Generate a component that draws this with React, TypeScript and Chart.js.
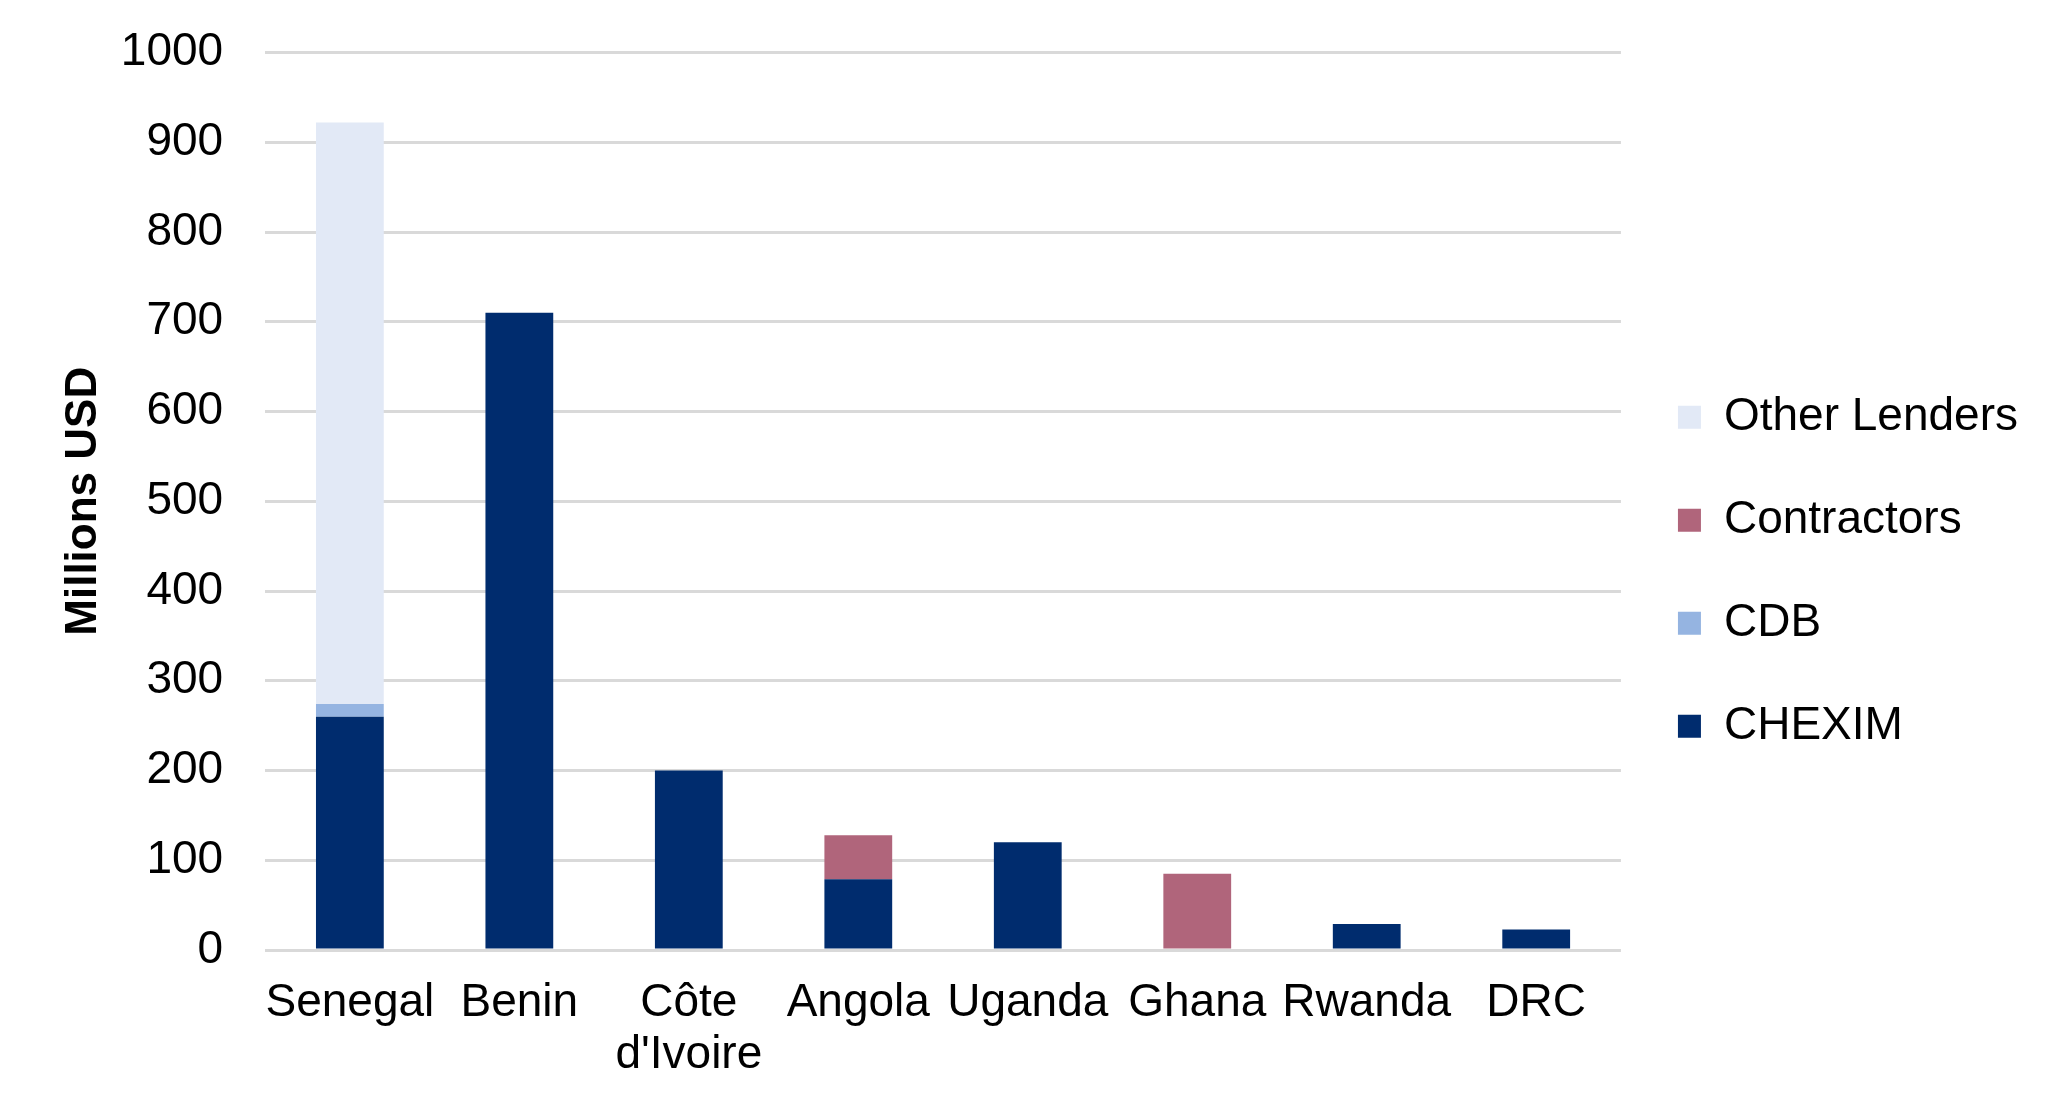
import { useEffect, useRef } from "react"
import { Chart, registerables } from "chart.js"

Chart.register(...registerables)

const countries = ["Senegal", "Benin", ["Côte", "d'Ivoire"], "Angola", "Uganda", "Ghana", "Rwanda", "DRC"]

const chexim = [260, 710, 200, 79, 120, 0, 29, 23]
const cdb = [14, 0, 0, 0, 0, 0, 0, 0]
const contractors = [0, 0, 0, 49, 0, 85, 0, 0]
const otherLenders = [648, 0, 0, 0, 0, 0, 0, 0]

const yMin = 0
const yMax = 1000
const yStep = 100

const FONT = "'Liberation Sans', Arial, Helvetica, sans-serif"

export default function App() {
  const chartRef = useRef<HTMLCanvasElement>(null)
  const chartInstance = useRef<Chart | null>(null)

  useEffect(() => {
    if (!chartRef.current) return

    if (chartInstance.current) {
      chartInstance.current.destroy()
    }

    const ctx = chartRef.current.getContext("2d")
    if (!ctx) return

    Chart.defaults.font.family = FONT
    Chart.defaults.color = "#000000"

    chartInstance.current = new Chart(ctx, {
      type: "bar",
      data: {
        labels: countries as any,
        datasets: [
          { label: "CHEXIM", data: chexim, backgroundColor: "#002C6E" },
          { label: "CDB", data: cdb, backgroundColor: "#95B4E1" },
          { label: "Contractors", data: contractors, backgroundColor: "#B0657B" },
          { label: "Other Lenders", data: otherLenders, backgroundColor: "#E2E9F6" },
        ],
      },
      options: {
        responsive: true,
        maintainAspectRatio: false,
        animation: false,
        layout: {
          padding: { top: 52.5, right: 43, bottom: 37, left: 0 },
        },
        datasets: {
          bar: {
            categoryPercentage: 1,
            barPercentage: 0.4,
            borderWidth: 0,
          },
        },
        plugins: {
          tooltip: { enabled: false },
          legend: {
            position: "right",
            reverse: true,
            title: {
              display: true,
              text: "",
              padding: 0,
              font: { size: 10, lineHeight: 1 },
            },
            labels: {
              boxWidth: 23,
              boxHeight: 23,
              padding: 57,
              color: "#000000",
              font: { size: 46, family: FONT },
            },
          },
        },
        scales: {
          x: {
            stacked: true,
            border: { display: false },
            grid: {
              display: true,
              drawOnChartArea: false,
              drawTicks: true,
              tickLength: 27,
              tickColor: "transparent",
              color: "transparent",
            },
            ticks: {
              padding: 0,
              autoSkip: false,
              maxRotation: 0,
              minRotation: 0,
              color: "#000000",
              font: { size: 46, lineHeight: 1.13, family: FONT },
            },
          },
          y: {
            stacked: true,
            min: yMin,
            max: yMax,
            border: { display: false },
            grid: {
              color: "#D9D9D9",
              lineWidth: 3,
              drawTicks: true,
              tickLength: 42,
              tickColor: "transparent",
            },
            ticks: {
              stepSize: yStep,
              padding: 0,
              color: "#000000",
              font: { size: 46, family: FONT },
              callback: (value) => String(value),
            },
            title: {
              display: true,
              text: "Millions USD",
              color: "#000000",
              padding: { top: 57, bottom: 11 },
              font: { size: 44, weight: "bold", family: FONT },
            },
          },
        },
      },
    })

    return () => {
      if (chartInstance.current) {
        chartInstance.current.destroy()
        chartInstance.current = null
      }
    }
  }, [])

  return (
    <div
      style={{
        position: "fixed",
        left: 0,
        top: 0,
        width: "2071px",
        height: "1118px",
        background: "#ffffff",
      }}
    >
      <canvas ref={chartRef} />
    </div>
  )
}
